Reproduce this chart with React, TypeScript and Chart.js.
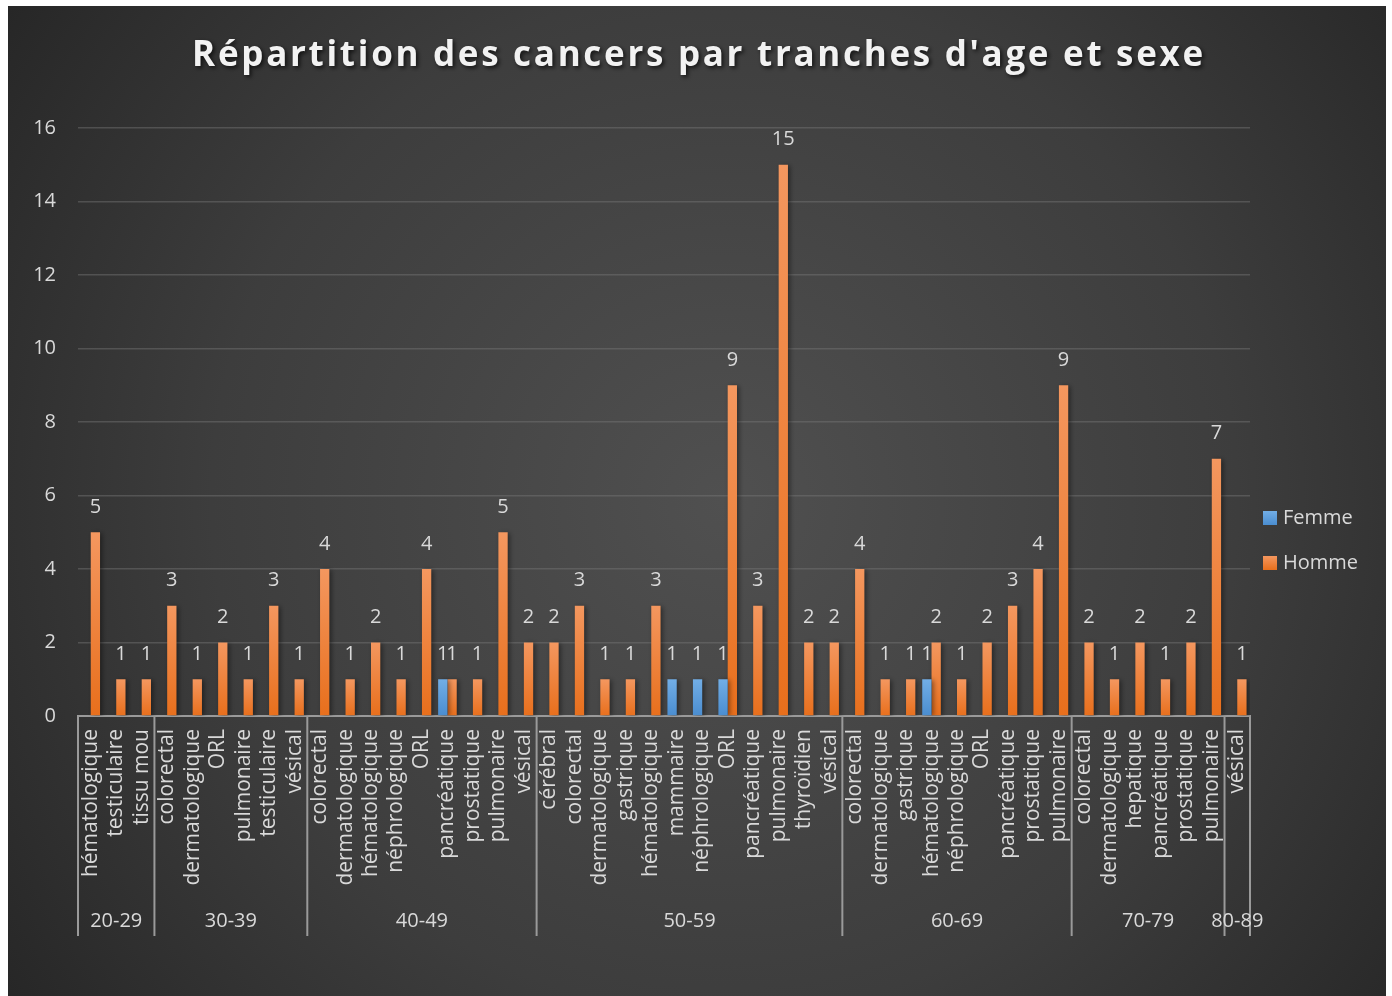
import React, { useEffect, useRef } from "react";
import { Chart, registerables } from "chart.js";

Chart.register(...registerables);

const TITLE = "Répartition des cancers par tranches d'age et sexe";

const categories = [
  "hématologique", "testiculaire", "tissu mou",
  "colorectal", "dermatologique", "ORL", "pulmonaire", "testiculaire", "vésical",
  "colorectal", "dermatologique", "hématologique", "néphrologique", "ORL", "pancréatique", "prostatique", "pulmonaire", "vésical",
  "cérébral", "colorectal", "dermatologique", "gastrique", "hématologique", "mammaire", "néphrologique", "ORL", "pancréatique", "pulmonaire", "thyroïdien", "vésical",
  "colorectal", "dermatologique", "gastrique", "hématologique", "néphrologique", "ORL", "pancréatique", "prostatique", "pulmonaire",
  "colorectal", "dermatologique", "hepatique", "pancréatique", "prostatique", "pulmonaire",
  "vésical",
];

const categoryAgeGroup = [
  "20-29", "20-29", "20-29",
  "30-39", "30-39", "30-39", "30-39", "30-39", "30-39",
  "40-49", "40-49", "40-49", "40-49", "40-49", "40-49", "40-49", "40-49", "40-49",
  "50-59", "50-59", "50-59", "50-59", "50-59", "50-59", "50-59", "50-59", "50-59", "50-59", "50-59", "50-59",
  "60-69", "60-69", "60-69", "60-69", "60-69", "60-69", "60-69", "60-69", "60-69",
  "70-79", "70-79", "70-79", "70-79", "70-79", "70-79",
  "80-89",
];

const femme: (number | null)[] = [
  null, null, null,
  null, null, null, null, null, null,
  null, null, null, null, null, 1, null, null, null,
  null, null, null, null, null, 1, 1, 1, null, null, null, null,
  null, null, null, 1, null, null, null, null, null,
  null, null, null, null, null, null,
  null,
];

const homme: (number | null)[] = [
  5, 1, 1,
  3, 1, 2, 1, 3, 1,
  4, 1, 2, 1, 4, 1, 1, 5, 2,
  2, 3, 1, 1, 3, null, null, 9, 3, 15, 2, 2,
  4, 1, 1, 2, 1, 2, 3, 4, 9,
  2, 1, 2, 1, 2, 7,
  1,
];

const yTicks = [0, 2, 4, 6, 8, 10, 12, 14, 16];

const FONT = "'Open Sans', 'Noto Sans', sans-serif";
const TEXT = "#d9d9d9";
const AXIS = "#9a9a9a";

const COLORS = {
  Femme: ["#72aee6", "#4a8dd0"],
  Homme: ["#f4975f", "#e86f1c"],
};

function barGradient(light: string, dark: string) {
  return (ctx: any) => {
    const chart = ctx.chart;
    const scales = chart.scales;
    if (ctx.type !== "data" || !scales || !scales.y || ctx.raw == null) return dark;
    const yTop = scales.y.getPixelForValue(ctx.raw);
    const yBot = scales.y.getPixelForValue(0);
    if (!isFinite(yTop) || !isFinite(yBot) || yTop === yBot) return dark;
    const g = chart.ctx.createLinearGradient(0, yTop, 0, yBot);
    g.addColorStop(0, light);
    g.addColorStop(1, dark);
    return g;
  };
}

const decorPlugin = {
  id: "decor",
  beforeDraw(chart: any) {
    const { ctx, width, height } = chart;
    ctx.save();
    const g = ctx.createRadialGradient(width * 0.52, height * 0.5, 0, width * 0.52, height * 0.5, Math.hypot(width, height) * 0.55);
    g.addColorStop(0, "#505050");
    g.addColorStop(0.55, "#3d3d3d");
    g.addColorStop(1, "#232323");
    ctx.fillStyle = g;
    ctx.fillRect(0, 0, width, height);
    ctx.restore();
  },
  beforeDatasetsDraw(chart: any) {
    const ctx = chart.ctx;
    ctx.save();
    ctx.shadowColor = "rgba(0,0,0,0.45)";
    ctx.shadowBlur = 5;
    ctx.shadowOffsetX = 2;
    ctx.shadowOffsetY = 1;
  },
  afterDatasetsDraw(chart: any) {
    const ctx = chart.ctx;
    ctx.restore();
    ctx.save();
    ctx.font = `20px ${FONT}`;
    ctx.fillStyle = TEXT;
    ctx.textAlign = "center";
    ctx.textBaseline = "middle";
    chart.data.datasets.forEach((ds: any, di: number) => {
      const meta = chart.getDatasetMeta(di);
      meta.data.forEach((el: any, i: number) => {
        const v = ds.data[i];
        if (v == null) return;
        ctx.fillText(String(v), el.x, el.y - 25);
      });
    });
    ctx.restore();
  },
  afterDraw(chart: any) {
    const { ctx, width, chartArea } = chart;
    const x = chart.scales.x;
    ctx.save();

    // group separators and labels
    const n = categories.length;
    const half = (x.getPixelForValue(1) - x.getPixelForValue(0)) / 2;
    const yAxis = chartArea.bottom;
    const yEnd = 930;
    ctx.strokeStyle = AXIS;
    ctx.lineWidth = 2;
    ctx.font = `20px ${FONT}`;
    ctx.fillStyle = TEXT;
    ctx.textAlign = "center";
    ctx.textBaseline = "middle";
    let start = 0;
    for (let i = 1; i <= n; i++) {
      if (i === n || categoryAgeGroup[i] !== categoryAgeGroup[start]) {
        const left = x.getPixelForValue(start) - half;
        const right = x.getPixelForValue(i - 1) + half;
        ctx.beginPath();
        ctx.moveTo(left, yAxis);
        ctx.lineTo(left, yEnd);
        ctx.stroke();
        if (i === n) {
          ctx.beginPath();
          ctx.moveTo(right, yAxis);
          ctx.lineTo(right, yEnd);
          ctx.stroke();
        }
        ctx.fillText(categoryAgeGroup[start], (left + right) / 2, 915);
        start = i;
      }
    }

    // legend
    const legend = [
      ["Femme", COLORS.Femme],
      ["Homme", COLORS.Homme],
    ] as const;
    legend.forEach(([label, cols], k) => {
      const ly = 512 + k * 45;
      const g = ctx.createLinearGradient(0, ly - 7, 0, ly + 7);
      g.addColorStop(0, cols[0]);
      g.addColorStop(1, cols[1]);
      ctx.fillStyle = g;
      ctx.fillRect(1255, ly - 7, 14, 14);
      ctx.fillStyle = TEXT;
      ctx.textAlign = "left";
      ctx.font = `20px ${FONT}`;
      ctx.fillText(label, 1275, ly);
    });

    // title
    ctx.font = `bold 35px ${FONT}`;
    (ctx as any).letterSpacing = "2.7px";
    ctx.textAlign = "center";
    ctx.textBaseline = "middle";
    ctx.shadowColor = "rgba(0,0,0,0.7)";
    ctx.shadowBlur = 4;
    ctx.shadowOffsetX = 2;
    ctx.shadowOffsetY = 2;
    ctx.fillStyle = "#f2f2f2";
    ctx.fillText(TITLE, width / 2 + 2, 50);
    ctx.restore();
  },
};

export default function App() {
  const canvasRef = useRef<HTMLCanvasElement | null>(null);

  useEffect(() => {
    const canvas = canvasRef.current;
    if (!canvas) return;
    const chart = new Chart(canvas, {
      type: "bar",
      data: {
        labels: categories,
        datasets: [
          {
            label: "Femme",
            data: femme,
            backgroundColor: barGradient(COLORS.Femme[0], COLORS.Femme[1]),
            barPercentage: 1,
            categoryPercentage: 0.73,
          },
          {
            label: "Homme",
            data: homme,
            backgroundColor: barGradient(COLORS.Homme[0], COLORS.Homme[1]),
            barPercentage: 1,
            categoryPercentage: 0.73,
          },
        ],
      },
      options: {
        responsive: false,
        animation: false,
        layout: { padding: { top: 122, right: 136, left: 0, bottom: 0 } },
        plugins: {
          legend: { display: false },
          title: { display: false },
          tooltip: { enabled: false },
        },
        scales: {
          x: {
            grid: { display: false },
            border: { display: true, color: AXIS, width: 2 },
            ticks: {
              autoSkip: false,
              maxRotation: 90,
              minRotation: 90,
              padding: 5,
              color: TEXT,
              font: { family: FONT, size: 21 },
            },
            afterFit(scale: any) {
              scale.height = 280;
            },
          },
          y: {
            min: 0,
            max: 16,
            afterBuildTicks(scale: any) {
              scale.ticks = yTicks.map((v) => ({ value: v }));
            },
            grid: { color: "rgba(120,120,120,0.45)", lineWidth: 1.5, drawTicks: false },
            border: { display: false },
            ticks: {
              padding: 22,
              color: TEXT,
              font: { family: FONT, size: 20 },
            },
            afterFit(scale: any) {
              scale.width = 70;
            },
          },
        },
      },
      plugins: [decorPlugin],
    });
    return () => chart.destroy();
  }, []);

  return (
    <div style={{ position: "absolute", left: 8, top: 6, width: 1378, height: 990 }}>
      <canvas ref={canvasRef} width={1378} height={990} style={{ width: 1378, height: 990, display: "block" }} />
    </div>
  );
}
